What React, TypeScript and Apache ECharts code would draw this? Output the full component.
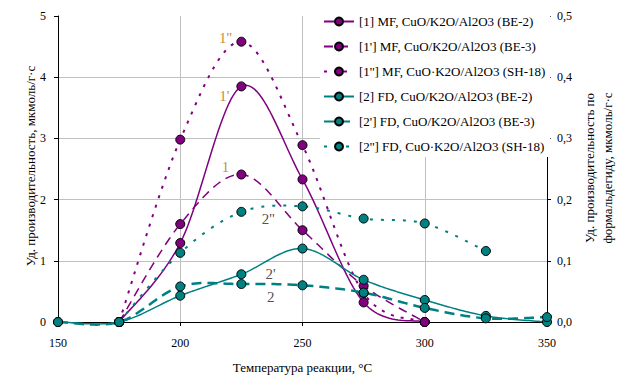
import React, { useEffect, useRef } from "react";
import * as echarts from "echarts";

const temps = [150, 175, 200, 225, 250, 275, 300, 325, 350];

// MF productivity, left axis (мкмоль/г·с); null = no measurement
const mf1 = [null, 0, 1.29, 3.85, 2.33, 0.32, 0.0];
const mf1p = [null, 0, 1.6, 2.41, 1.5, 0.59, 0.0];
const mf1pp = [null, 0, 2.98, 4.58, 2.89, 0.47, 0.0];

// FD productivity, right axis (мкмоль/г·с)
const fd2 = [0, 0, 0.043, 0.078, 0.12, 0.069, 0.036, 0.01, 0.0];
const fd2p = [0, 0, 0.058, 0.062, 0.06, 0.048, 0.023, 0.006, 0.008];
const fd2pp = [null, 0, 0.113, 0.18, 0.189, 0.169, 0.161, 0.116];

const seriesNames = [
  "[1] MF, CuO/K2O/Al2O3 (BE-2)",
  "[1'] MF, CuO/K2O/Al2O3 (BE-3)",
  "[1''] MF, CuO·K2O/Al2O3 (SH-18)",
  "[2] FD, CuO/K2O/Al2O3 (BE-2)",
  "[2'] FD, CuO/K2O/Al2O3 (BE-3)",
  "[2''] FD, CuO·K2O/Al2O3 (SH-18)",
];

// curve annotations: [temperature, left-axis value, text]
const curveLabels: [number, number, string][] = [
  [218.5, 4.64, "1''"],
  [218, 3.69, "1'"],
  [218.5, 2.53, "1"],
];
const curveLabels2: [number, number, string][] = [
  [236, 1.68, "2''"],
  [237, 0.78, "2'"],
  [237, 0.41, "2"],
];

const leftTicks = [0, 1, 2, 3, 4, 5];
const rightTicks = [0, 0.1, 0.2, 0.3, 0.4, 0.5];

const PURPLE = "#800080";
const TEAL = "#008080";
const FONT = "'Liberation Serif', 'Times New Roman', serif";

const pairs = (v: (number | null)[]) =>
  v.map((y, i) => [temps[i], y === null ? "-" : y]);

export default function App() {
  const ref = useRef<HTMLDivElement>(null);
  useEffect(() => {
    if (!ref.current) return;
    const chart = echarts.init(ref.current, undefined, { renderer: "svg" });

    const styles: [(number | null)[], string, any, number, number][] = [
      [mf1, PURPLE, null, 1.5, 0],
      [mf1p, PURPLE, [9, 6], 1.5, 0],
      [mf1pp, PURPLE, [3, 7], 2, 0],
      [fd2, TEAL, null, 1.5, 1],
      [fd2p, TEAL, [10, 6], 2.5, 1],
      [fd2pp, TEAL, [3, 8], 2, 1],
    ];

    // markers + legend entries (line hidden; the smoothed curve is drawn below)
    const markerSeries = styles.map(([data, color, dash, width, yi], i) => ({
      name: seriesNames[i],
      type: "line",
      yAxisIndex: yi,
      data: pairs(data),
      symbol: "circle",
      symbolSize: 9,
      itemStyle: { color, borderColor: "#000", borderWidth: 1 },
      lineStyle: { color, width, type: dash || "solid", opacity: 0 },
      z: 4,
    }));

    // Excel-like Catmull-Rom smoothed curves
    const curveSeries = styles.map(([data, color, dash, width, yi]) => ({
      type: "custom",
      yAxisIndex: yi,
      silent: true,
      clip: false,
      z: 3,
      data: pairs(data),
      encode: { x: 0, y: 1 },
      renderItem: (params: any, api: any) => {
        if (params.dataIndex !== data.findIndex((v) => v !== null)) return null;
        const p: number[][] = [];
        data.forEach((v, k) => {
          if (v !== null) p.push(api.coord([temps[k], v]));
        });
        const pts: number[][] = [p[0]];
        for (let k = 0; k < p.length - 1; k++) {
          const p0 = p[k - 1] || p[k];
          const p1 = p[k];
          const p2 = p[k + 1];
          const p3 = p[k + 2] || p[k + 1];
          const c1 = [p1[0] + (p2[0] - p0[0]) / 6, p1[1] + (p2[1] - p0[1]) / 6];
          const c2 = [p2[0] - (p3[0] - p1[0]) / 6, p2[1] - (p3[1] - p1[1]) / 6];
          const N = 24;
          for (let s = 1; s <= N; s++) {
            const t = s / N;
            const u = 1 - t;
            const a = u * u * u, b = 3 * u * u * t, c = 3 * u * t * t, d = t * t * t;
            pts.push([
              a * p1[0] + b * c1[0] + c * c2[0] + d * p2[0],
              a * p1[1] + b * c1[1] + c * c2[1] + d * p2[1],
            ]);
          }
        }
        return {
          type: "polyline",
          shape: { points: pts },
          style: {
            fill: "none",
            stroke: color,
            lineWidth: width,
            lineDash: dash || null,
          },
        };
      },
    }));

    const labelSeries = (arr: [number, number, string][], color: string) => ({
      type: "scatter",
      yAxisIndex: 0,
      symbolSize: 0,
      silent: true,
      data: arr.map(([x, y, t]) => ({ value: [x, y], name: t })),
      label: {
        show: true,
        position: "inside",
        formatter: (p: any) => p.name,
        color,
        fontFamily: FONT,
        fontSize: 15,
      },
      z: 5,
    });
    const axisFont = { fontFamily: FONT, fontSize: 12, color: "#000" };
    chart.setOption({
      animation: false,
      backgroundColor: "#fff",
      textStyle: { fontFamily: FONT },
      grid: { left: 58, right: 79, top: 16, bottom: 64 },
      legend: {
        data: seriesNames.map((n) => ({ name: n, lineStyle: { opacity: 1 } })),
        orient: "vertical",
        left: 320,
        top: 12,
        itemWidth: 30,
        itemHeight: 10,
        itemGap: 12,
        padding: [3, 5, 4, 3],
        backgroundColor: "#fff",
        textStyle: { fontFamily: FONT, fontSize: 13, color: "#000" },
      },
      xAxis: {
        type: "value",
        min: 150,
        max: 350,
        interval: 50,
        name: "Температура реакции, °C",
        nameLocation: "middle",
        nameGap: 39,
        nameTextStyle: { fontFamily: FONT, fontSize: 13, color: "#000" },
        axisLine: { lineStyle: { color: "#000", width: 1 } },
        axisTick: { show: true, length: 4, lineStyle: { color: "#000" } },
        axisLabel: { ...axisFont, margin: 15 },
        splitLine: {
          show: true,
          showMinLine: false,
          showMaxLine: false,
          lineStyle: { color: "#c0c0c0", width: 1 },
        },
      },
      yAxis: [
        {
          type: "value",
          min: leftTicks[0],
          max: leftTicks[leftTicks.length - 1],
          interval: 1,
          axisLine: { show: true, lineStyle: { color: "#000", width: 1 } },
          axisTick: { show: true, length: 4, lineStyle: { color: "#000" } },
          axisLabel: { ...axisFont, margin: 12 },
          splitLine: {
            show: true,
            showMinLine: false,
            showMaxLine: false,
            lineStyle: { color: "#c0c0c0", width: 1 },
          },
        },
        {
          type: "value",
          position: "right",
          min: rightTicks[0],
          max: rightTicks[rightTicks.length - 1],
          interval: 0.1,
          axisLine: { show: true, lineStyle: { color: "#000", width: 1 } },
          axisTick: { show: true, length: 4, lineStyle: { color: "#000" } },
          axisLabel: {
            ...axisFont,
            margin: 10,
            formatter: (v: number) => v.toFixed(1).replace(".", ","),
          },
          splitLine: { show: false },
        },
      ],
      graphic: [
        {
          type: "text",
          x: 30,
          y: 166,
          rotation: Math.PI / 2,
          style: {
            text: "Уд. производительность, мкмоль/г·с",
            fontFamily: FONT,
            fontSize: 13,
            fill: "#000",
            align: "center",
            verticalAlign: "middle",
          },
        },
        {
          type: "text",
          x: 598,
          y: 168,
          rotation: Math.PI / 2,
          style: {
            text: "Уд. производительность по\nформальдегиду, мкмоль/г·с",
            fontFamily: FONT,
            fontSize: 13,
            lineHeight: 18,
            fill: "#000",
            align: "center",
            verticalAlign: "middle",
          },
        },
      ],
      series: [
        ...curveSeries,
        ...markerSeries,
        labelSeries(curveLabels, "#b86e00"),
        labelSeries(curveLabels2, "#222"),
      ],
    });
    return () => chart.dispose();
  }, []);
  return (
    <div
      ref={ref}
      style={{ position: "fixed", left: 0, top: 0, width: 626, height: 386 }}
    />
  );
}
